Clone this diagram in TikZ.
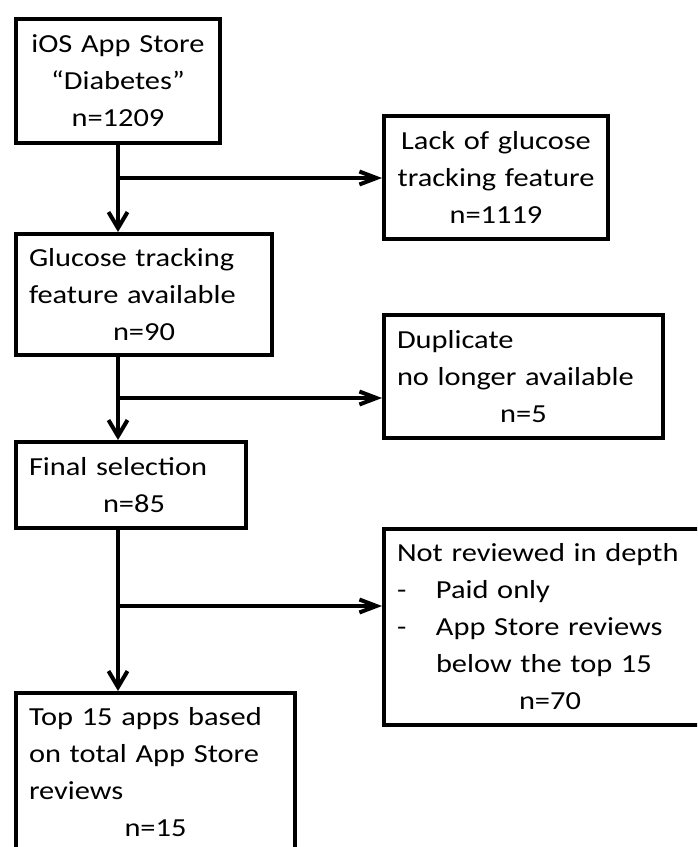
\documentclass[tikz,border=0pt]{standalone}
\usepackage{fontspec}
\setmainfont{Carlito}[FakeStretch=1.17]
\usetikzlibrary{arrows.meta}
\begin{document}
\begin{tikzpicture}[x=1pt,y=-1pt,
  box/.style={draw, line width=4pt, rectangle, inner ysep=0pt,
    font=\fontsize{26}{37}\selectfont, text height=18pt, anchor=center},
  cbox/.style={box, align=center, inner xsep=4pt},
  lbox/.style={box, align=left, inner xsep=13pt},
  varr/.style={line width=4pt, -{Straight Barb[length=16pt,width=19pt]}},
  harr/.style={line width=4pt, -{Straight Barb[length=17pt,width=13pt]}}]
\useasboundingbox (0,0) rectangle (697,847);
\fill[white] (0,0) rectangle (697,847);
\clip (0,0) rectangle (697,847);

\node[cbox, minimum width=204pt, minimum height=124pt, text width=196pt] (b1) at (118,81)
  {iOS App Store\\“Diabetes”\\n=1209};
\node[cbox, minimum width=224pt, minimum height=123pt, text width=216pt] (b2) at (496,177.5)
  {Lack of glucose\\tracking feature\\n=1119};
\node[lbox, minimum width=256pt, minimum height=121pt, text width=230pt] (b3) at (144,294.5)
  {Glucose tracking\\feature available\\\makebox[\hsize]{n=90}};
\node[lbox, minimum width=279pt, minimum height=123pt, text width=253pt] (b4) at (523.5,376.5)
  {Duplicate\\no longer available\\\makebox[\hsize]{n=5}};
\node[lbox, minimum width=230pt, minimum height=86pt, text width=204pt] (b5) at (131,485)
  {Final selection\\\makebox[\hsize]{\hspace{6pt}n=85}};
\node[lbox, minimum width=332pt, minimum height=196pt, text width=306pt] (b6) at (550,627)
  {Not reviewed in depth\\\makebox[39pt][l]{-}Paid only\\\makebox[39pt][l]{-}App Store reviews\\\hspace*{39pt}below the top 15\\\makebox[\hsize]{n=70}};
\node[lbox, minimum width=279pt, minimum height=158pt, text width=253pt] (b7) at (155.5,772)
  {Top 15 apps based\\on total App Store\\reviews\\\makebox[\hsize]{n=15}};

\coordinate (j1) at (118,178);
\coordinate (j2) at (118,398);
\coordinate (j3) at (118,606);

\draw[varr] (b1.south) -- (b1.south |- b3.north);
\draw[harr] (j1) -- (j1 -| b2.west);
\draw[varr] (b1.south |- b3.south) -- (b1.south |- b5.north);
\draw[harr] (j2) -- (j2 -| b4.west);
\draw[varr] (b1.south |- b5.south) -- (b1.south |- b7.north);
\draw[harr] (j3) -- (j3 -| b6.west);
\end{tikzpicture}
\end{document}
